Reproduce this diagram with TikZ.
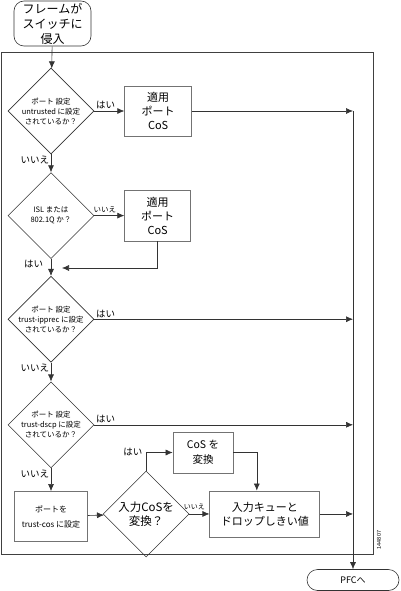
\documentclass[tikz,border=0pt]{standalone}
\usepackage{fontspec}
\setmainfont{Noto Sans CJK JP}
\newfontfamily\figfont{Liberation Sans}
\usetikzlibrary{positioning, shapes.geometric, arrows, arrows.meta}
\tikzset{
x=1pt, y=-1pt, % work in pixels of the original, y going down
>={Latex[length=7pt, width=6pt]}, % filled arrow heads
every node/.style={inner sep=0pt},
decision/.style={diamond, draw=black!80, line width=0.6pt, minimum width=86pt, minimum height=86pt, inner sep=-3pt, align=center, font=\fontsize{7.5}{10}\selectfont},
process/.style={rectangle, draw=black!55, line width=0.7pt, align=center},
terminal/.style={rectangle, rounded corners=10pt, draw=black!80, line width=0.6pt, align=center},
flow/.style={->, draw=black!80, line width=0.6pt},
lbl/.style={font=\fontsize{9.5}{11}\selectfont, inner sep=1.5pt},
small lbl/.style={font=\fontsize{7.5}{9}\selectfont, inner sep=1pt},
}
\begin{document}
\begin{tikzpicture}
        \useasboundingbox (0,0) rectangle (400,591);
        % outer frame
        \draw[black!75, line width=0.6pt] (1,52) rectangle (373,554);

        \node[terminal, minimum width=77pt, minimum height=45pt, font=\fontsize{12}{15}\selectfont] (start) at (52.5,23.5) {フレームが\\スイッチに\\侵入};
        \node[decision] (d1) at (51,111) {ポート 設定\\untrusted に設定\\されているか？};
        \node[decision, below=18pt of d1] (d2) {ISL または\\802.1Q か？};
        \node[decision, below=17pt of d2] (d3) {ポート 設定\\trust-ipprec に設定\\されているか？};
        \node[decision, below=19pt of d3] (d4) {ポート 設定\\trust-dscp に設定\\されているか？};
        \node[process, below=23pt of d4, minimum width=73pt, minimum height=50pt, font=\fontsize{8}{15}\selectfont] (trust) {ポートを\\trust-cos に設定};
        \node[decision, right=15pt of trust, yshift=2.5pt, font=\fontsize{11.5}{14}\selectfont] (d5) {入力CoSを\\変換？};

        \node[process, right=30pt of d1, minimum width=67pt, minimum height=50pt, font=\fontsize{11}{14}\selectfont] (cos1) {適用\\ポート\\CoS};
        \node[process, right=30pt of d2, minimum width=66pt, minimum height=51pt, font=\fontsize{11}{14}\selectfont] (cos2) {適用\\ポート\\CoS};
        \node[process, minimum width=60pt, minimum height=41pt, font=\fontsize{10.5}{15}\selectfont] (map) at (203,452.5) {CoS を\\変換};
        \node[process, right=20pt of d5, minimum width=110pt, minimum height=46pt, font=\fontsize{11}{14}\selectfont] (queue) {入力キューと\\ドロップしきい値};

        \node[terminal, rounded corners=10.5pt, minimum width=92pt, minimum height=21pt, font=\fontsize{9}{11}\selectfont] (pfc) at (353,580) {PFCへ};
        \node[rotate=90, font=\figfont\fontsize{5.5}{6}\selectfont] (fig) at (379,540) {144807};

        \coordinate (bus) at (cos1.east -| pfc.north);
        \coordinate (merge) at (62,268);

        \draw[flow] (start) -- (d1);
        \draw[flow] (d1) -- node[lbl, above right, pos=0] {はい} (cos1);
        \draw[flow] (cos1) -- (bus);
        \draw[flow] (bus) -- (pfc);
        \draw[flow] (d1) -- node[lbl, below left, pos=0] {いいえ} (d2);

        \draw[flow] (d2) -- node[small lbl, above, pos=0.35, yshift=1pt] {いいえ} (cos2);
        \draw[flow] (cos2) |- (merge);
        \draw[flow] (d2) -- node[lbl, left=6pt, pos=0.3] {はい} (d3);

        \draw[flow] (d3.east) -- node[lbl, above right, pos=0] {はい} (d3.east -| pfc.north);
        \draw[flow] (d3) -- node[lbl, below left, pos=0] {いいえ} (d4);

        \draw[flow] (d4.east) -- node[lbl, above right, pos=0] {はい} (d4.east -| pfc.north);
        \draw[flow] (d4) -- node[lbl, below left, pos=0] {いいえ} (trust);

        \draw[flow] (trust) -- (d5);
        \draw[flow] (d5.north) |- node[lbl, left=2pt, pos=0.5] {はい} (map.west);
        \draw[flow] (map.east) -| ([xshift=-8pt]queue.north);
        \draw[flow] (d5) -- node[small lbl, above=3pt, pos=0.25, font=\fontsize{7}{8}\selectfont] {いいえ} (queue);
        \draw[flow] (queue.east) -- (queue.east -| pfc.north);
    \end{tikzpicture}
\end{document}
